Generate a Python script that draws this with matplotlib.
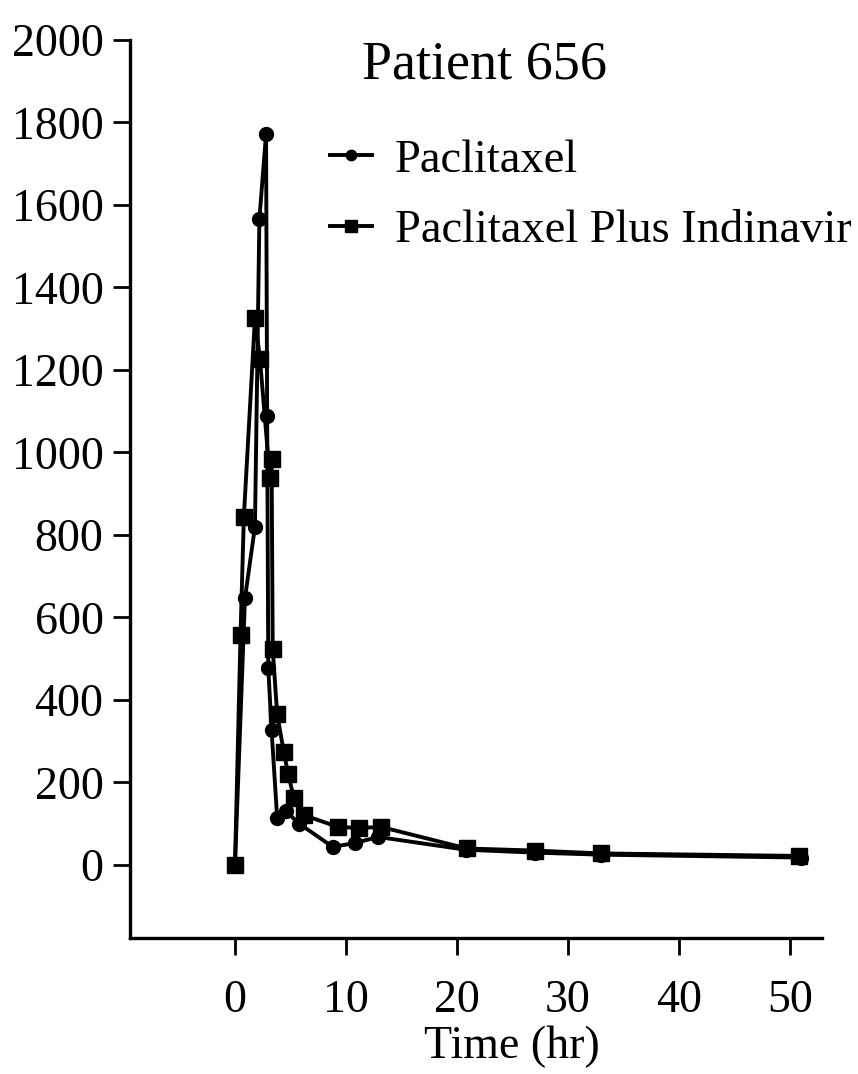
import matplotlib
matplotlib.use("Agg")
import matplotlib.pyplot as plt

# Data
time_p = [0, 0.9, 1.8, 2.2, 2.8, 2.9, 3.0, 3.3, 3.8, 4.6, 5.8, 8.8, 10.8, 12.9, 20.8, 27.0, 33.0, 51.0]
conc_p = [0, 647, 820, 1566, 1772, 1088, 478, 327, 114, 130, 100, 44, 53, 68, 37, 30, 25, 18]

time_pi = [0, 0.5, 0.8, 1.8, 2.25, 3.15, 3.3, 3.4, 3.8, 4.4, 4.8, 5.3, 6.2, 9.3, 11.2, 13.2, 20.9, 27.0, 33.0, 50.8]
conc_pi = [0, 558, 844, 1326, 1227, 938, 984, 524, 366, 274, 220, 163, 121, 92, 90, 92, 40, 35, 28, 22]

xticks = [0, 10, 20, 30, 40, 50]
yticks = [0, 200, 400, 600, 800, 1000, 1200, 1400, 1600, 1800, 2000]

plt.rcParams['font.family'] = ['Liberation Serif', 'DejaVu Serif']

fig = plt.figure(figsize=(8.58, 10.74), dpi=100)
ax = fig.add_axes([130/858, 1-938/1074, (822-130)/858, (938-40)/1074])

ax.plot(time_p, conc_p, color='black', lw=2.8, marker='o', ms=10, label='Paclitaxel')
ax.plot(time_pi, conc_pi, color='black', lw=2.8, marker='s', ms=11, label='Paclitaxel Plus Indinavir')

ax.set_xlim(-9.46, 52.9)
ax.set_ylim(-177, 2000)
ax.set_xticks(xticks)
ax.set_yticks(yticks)
ax.tick_params(axis='both', direction='out', length=12, width=2, labelsize=33)
ax.tick_params(axis='y', pad=7)
ax.tick_params(axis='x', pad=18)
for s in ['top', 'right']:
    ax.spines[s].set_visible(False)
for s in ['left', 'bottom']:
    ax.spines[s].set_linewidth(2.4)

fig.text(485/858, 1-65/1074, 'Patient 656', ha='center', va='center', fontsize=39)
fig.text(512/858, 1-1047/1074, 'Time (hr)', ha='center', va='center', fontsize=33)

ax.legend(loc='upper left', bbox_to_anchor=(330/858, 1-139/1074), bbox_transform=fig.transFigure,
          frameon=False, fontsize=33.5, handlelength=0.9, handletextpad=0.5, labelspacing=0.6,
          borderpad=0, borderaxespad=0, markerscale=0.75)

fig.savefig('out.png', dpi=100)
